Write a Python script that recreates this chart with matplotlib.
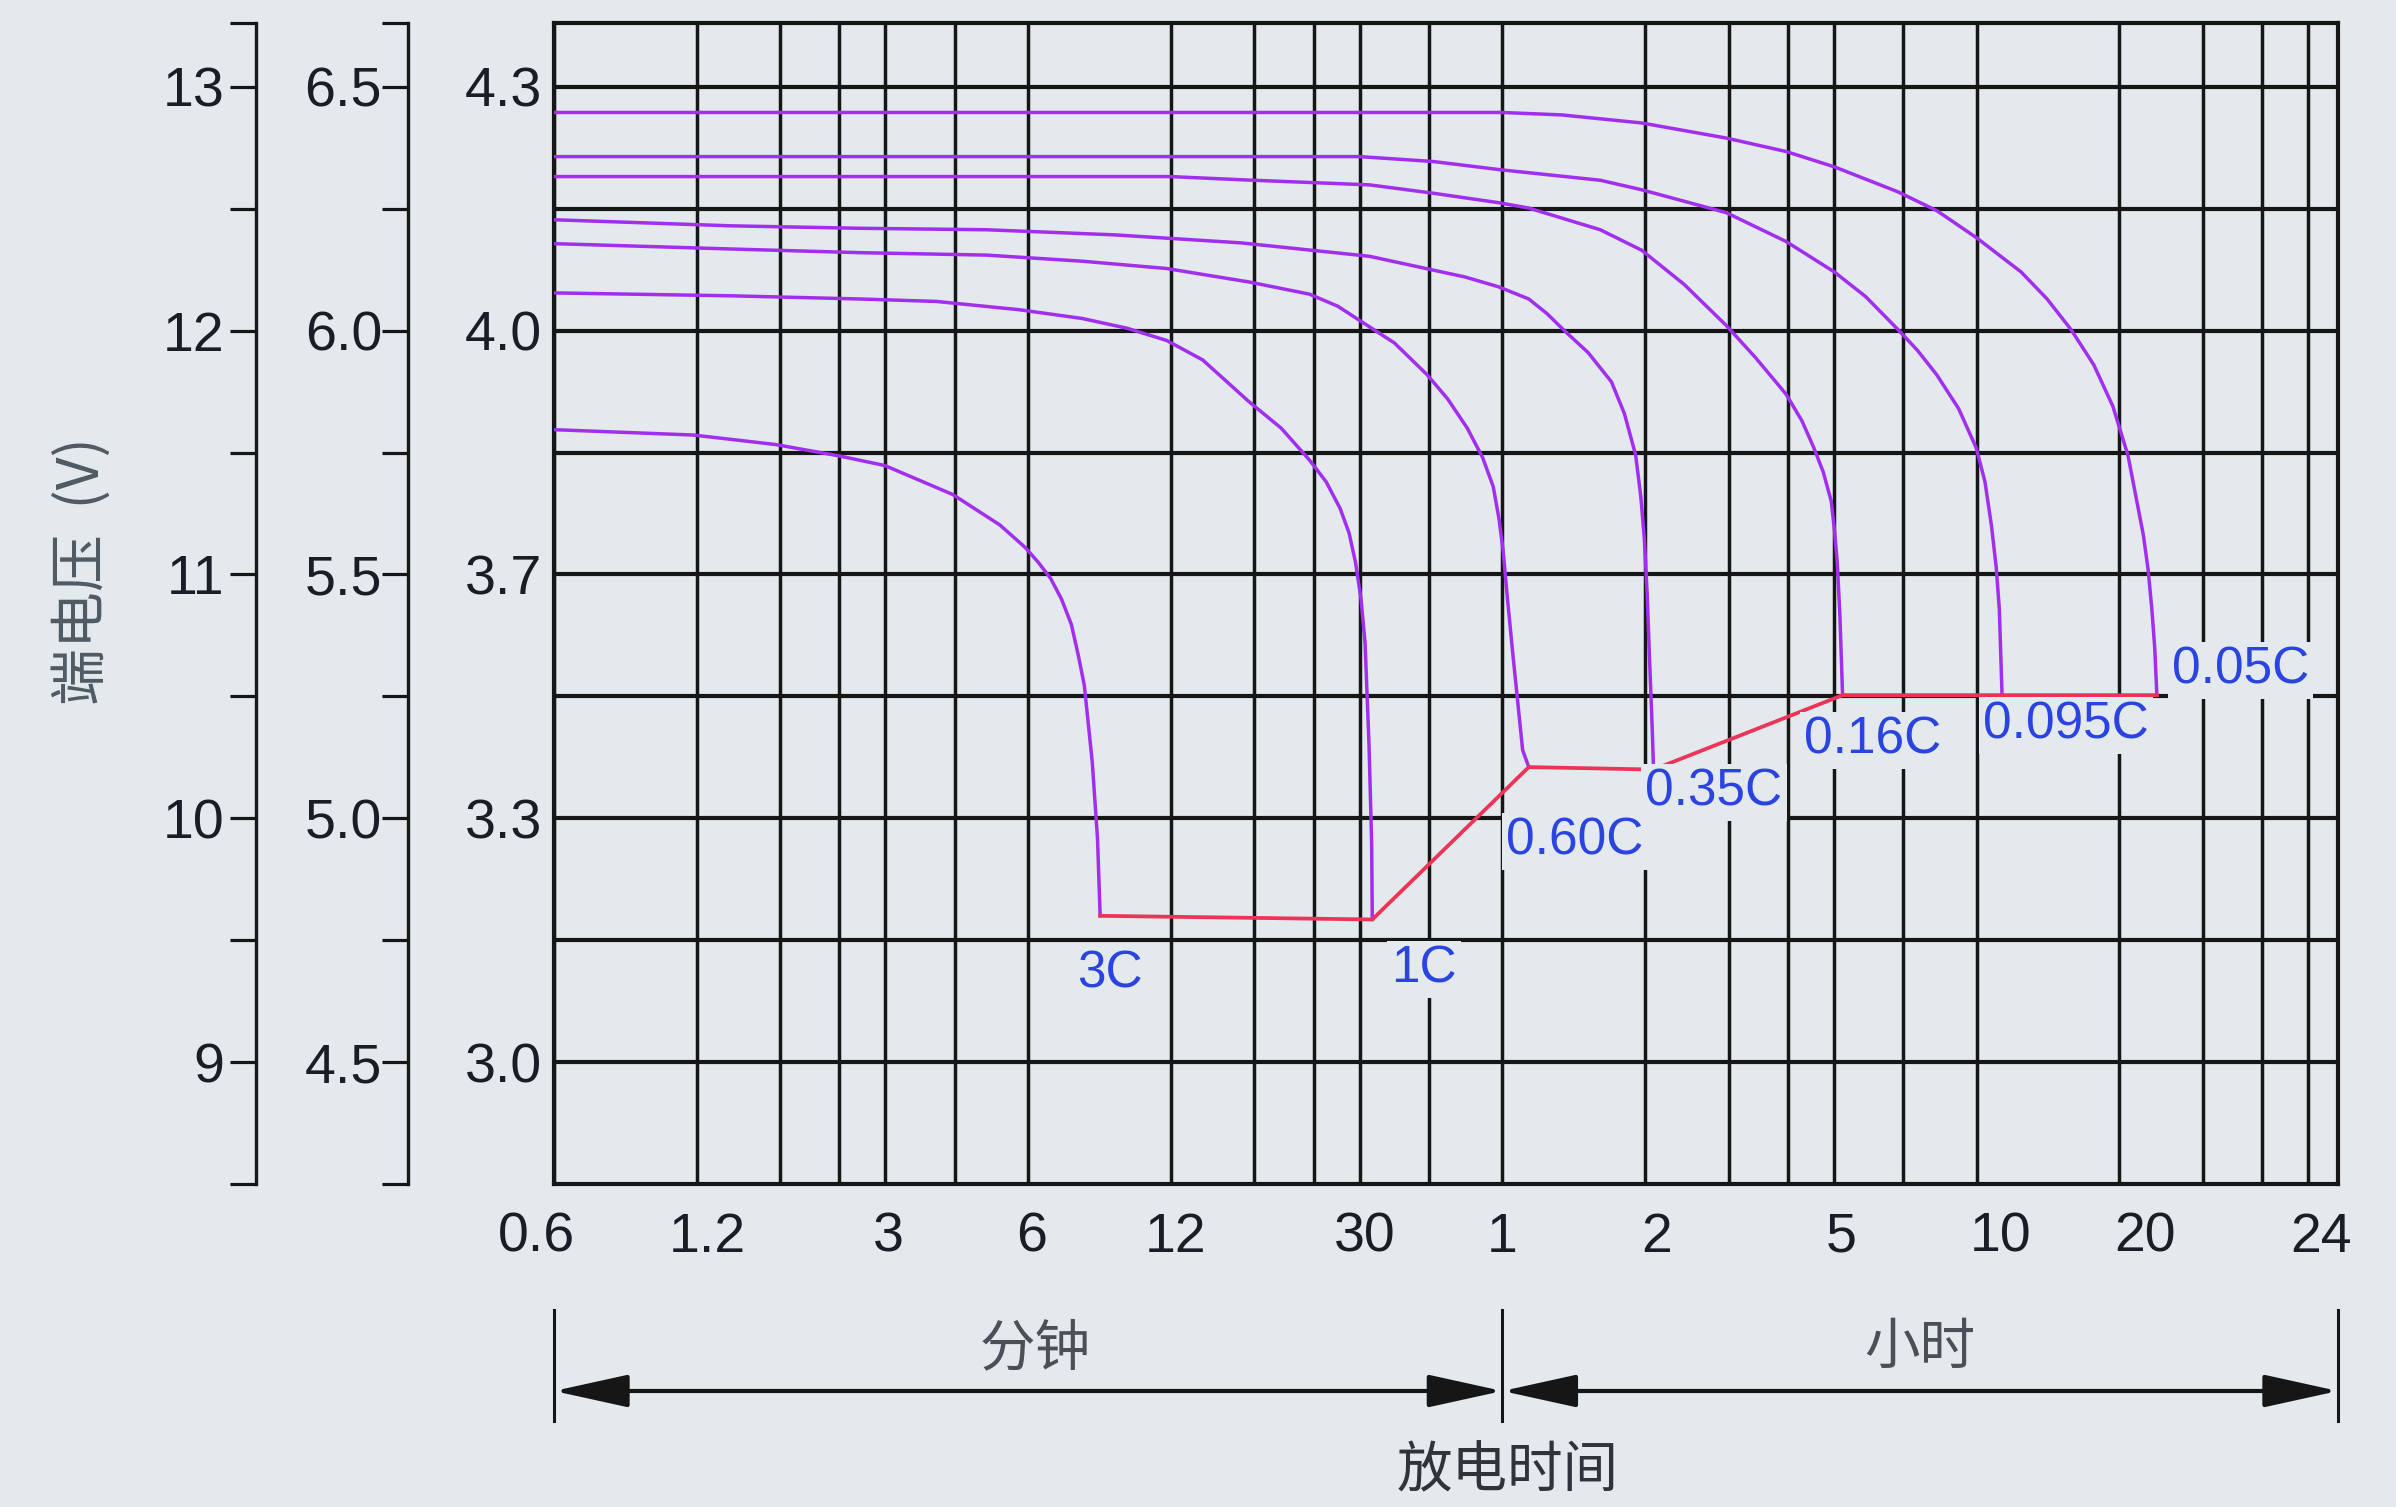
import numpy as np
import matplotlib
matplotlib.use('Agg')
import matplotlib.pyplot as plt
from matplotlib.ticker import NullLocator
from matplotlib.patches import FancyArrowPatch

# ---------------- data ----------------
# discharge time in minutes, terminal voltage on the 12 V scale
t_3C = [0.6, 1.18, 1.76, 2.40, 2.99, 4.16, 5.23, 5.92, 6.3, 6.69, 7.05, 7.40, 7.65, 7.88,
        8.19, 8.40, 8.51]
v_3C = [11.594, 11.572, 11.533, 11.486, 11.447, 11.328, 11.203, 11.11, 11.05, 10.984, 10.9,
        10.795, 10.67, 10.545, 10.23, 9.918, 9.60]

t_1C = [0.6, 1.42, 2.65, 3.84, 5.74, 7.8, 9.7, 11.75, 14.0, 17.5, 20.5, 23.5, 25.5, 27.3,
        28.5, 29.4, 30.2, 30.8, 31.4, 31.8, 31.9]
v_1C = [12.155, 12.143, 12.13, 12.12, 12.086, 12.05, 12.01, 11.96, 11.88, 11.71, 11.60,
        11.47, 11.38, 11.27, 11.17, 11.05, 10.9, 10.72, 10.30, 9.90, 9.585]

t_060C = [0.6, 1.42, 2.65, 4.9, 7.8, 11.75, 17.5, 23.5, 27.0, 30.1, 35.5, 41.6, 46, 50.6,
          54.5, 57.4, 59.0, 60.2, 61.5, 63.0, 66.2, 68.2]
v_060C = [12.357, 12.335, 12.32, 12.31, 12.285, 12.255, 12.2, 12.15, 12.10, 12.04, 11.95,
          11.82, 11.72, 11.60, 11.48, 11.36, 11.23, 11.10, 10.9, 10.69, 10.28, 10.21]

t_035C = [0.6, 1.42, 2.65, 4.9, 9.13, 16.9, 31.5, 50.1, 58.9, 68.2, 74.5, 81.1, 91.0, 101.9,
          108.5, 114.6, 117.5, 119.5, 121.2, 122.4, 124.3, 125.0]
v_035C = [12.455, 12.43, 12.42, 12.414, 12.393, 12.36, 12.305, 12.22, 12.18, 12.13, 12.07,
          12.0, 11.91, 11.79, 11.66, 11.49, 11.32, 11.15, 10.92, 10.69, 10.35, 10.20]

t_016C = [0.6, 12, 16.9, 31.5, 42.8, 58.9, 68.2, 96.5, 118, 145, 178, 205, 237.8, 257,
          272.2, 285, 296.3, 301, 305, 309, 313]
v_016C = [12.632, 12.632, 12.619, 12.598, 12.564, 12.525, 12.503, 12.414, 12.33, 12.19,
          12.021, 11.89, 11.74, 11.63, 11.52, 11.42, 11.30, 11.18, 11.05, 10.83, 10.505]

t_0095C = [0.6, 30, 42.8, 59.5, 96.5, 118, 178, 237.8, 300.7, 350, 409, 450, 494.9, 550,
           599, 625, 645, 660, 670, 679]
v_0095C = [12.714, 12.714, 12.694, 12.66, 12.617, 12.578, 12.484, 12.366, 12.241, 12.14,
           12.006, 11.92, 11.818, 11.68, 11.519, 11.38, 11.20, 11.03, 10.86, 10.505]

t_005C = [0.6, 60, 80, 118, 178, 237.8, 300.7, 409, 494.9, 599, 744.7, 845, 948, 1060,
          1163, 1251.6, 1349, 1380, 1405, 1425, 1440]
v_005C = [12.895, 12.895, 12.885, 12.852, 12.79, 12.735, 12.672, 12.57, 12.492, 12.382,
          12.241, 12.13, 12.006, 11.86, 11.69, 11.488, 11.16, 11.02, 10.86, 10.70, 10.505]

rate_names = ['3C', '1C', '0.60C', '0.35C', '0.16C', '0.095C', '0.05C']
curves_t = [t_3C, t_1C, t_060C, t_035C, t_016C, t_0095C, t_005C]
curves_v = [v_3C, v_1C, v_060C, v_035C, v_016C, v_0095C, v_005C]

# end-of-discharge line joins the curve end points
end_t = [t[-1] for t in curves_t]
end_v = [v[-1] for v in curves_v]

# axis tick labels
x_tick_vals = [0.6, 1.2, 3, 6, 12, 30, 60, 120, 300, 600, 1200]
x_tick_text = ['0.6', '1.2', '3', '6', '12', '30', '1', '2', '5', '10', '20']
x_last_text = '24'
y12_ticks = [9, 10, 11, 12, 13]
y12_text = ['9', '10', '11', '12', '13']
y6_text = ['4.5', '5.0', '5.5', '6.0', '6.5']
ycell_text = ['3.0', '3.3', '3.7', '4.0', '4.3']

# grid positions (minutes): 1,2,3,4,5,7 pattern of the log paper
grid_x = [0.6, 1.2, 1.8, 2.4, 3, 4.2, 6, 12, 18, 24, 30, 42, 60,
          120, 180, 240, 300, 420, 600, 1200, 1800, 2400, 3000]
grid_y_major = [9, 10, 11, 12, 13]
grid_y_minor = [9.5, 10.5, 11.5, 12.5]

# ---------------- style ----------------
BG = '#E3E9EC'
GRID = '#161616'
CURVE = '#A22EEE'
ENDC = '#EE3358'
LBL = '#2B44E0'
TXT = '#1b1d26'
CJK = ['Noto Sans CJK SC', 'DejaVu Sans']
LAT = ['Liberation Sans', 'DejaVu Sans']

W, H = 2396, 1507
fig = plt.figure(figsize=(W / 100, H / 100), dpi=100, facecolor=BG)
L, R, T, B = 554, 2338, 23, 1184
ax = fig.add_axes([L / W, 1 - B / H, (R - L) / W, (B - T) / H])
ax.set_facecolor(BG)

XMIN, XMAX = 0.6, 3470
YMIN, YMAX = 8.5, 13.262
ax.set_xscale('log')
ax.set_xlim(XMIN, XMAX)
ax.set_ylim(YMIN, YMAX)

ax.set_xticks(grid_x)
ax.xaxis.set_minor_locator(NullLocator())
ax.tick_params(axis='x', which='both', length=0, labelbottom=False)
ax.grid(axis='x', which='major', color=GRID, lw=2.5)

ax.set_yticks(grid_y_major)
ax.set_yticklabels(ycell_text)
ax.set_yticks(grid_y_minor, minor=True)
ax.tick_params(axis='y', which='both', length=0, pad=8.5, labelsize=40, labelcolor=TXT)
for lab in ax.get_yticklabels():
    lab.set_family(LAT)
ax.grid(axis='y', which='both', color=GRID, lw=3.0)
ax.set_axisbelow(True)
for s in ax.spines.values():
    s.set_linewidth(3.0)
    s.set_color(GRID)

# curves
for t, v in zip(curves_t, curves_v):
    ax.plot(t, v, color=CURVE, lw=2.5, zorder=3, solid_joinstyle='round')
ax.plot(end_t, end_v, color=ENDC, lw=2.7, zorder=4, solid_joinstyle='miter')

# rate labels
label_pos = [(8.91, 9.36), (41.0, 9.38), (85.3, 9.906), (167.6, 10.107),
             (361.9, 10.32), (924.6, 10.381), (2160, 10.607)]
for name, (lx, ly) in zip(rate_names, label_pos):
    ax.text(lx, ly, name, color=LBL, fontsize=37, family=LAT, ha='center', va='center',
            zorder=5, bbox=dict(boxstyle='square,pad=0.08', fc=BG, ec='none'))

# x tick labels (offsets of the original artwork)
xf = ax.get_xaxis_transform()
x_off_px = [-18, 11, 3, 3.5, 5, 5.5, 0, 11, 7, 24, 26]
for val, txt, dx in zip(x_tick_vals, x_tick_text, x_off_px):
    ax.annotate(txt, xy=(val, 0), xycoords=xf, xytext=(dx * 0.72, -54 * 0.72),
                textcoords='offset points', ha='center', va='center',
                fontsize=40, family=LAT, color=TXT, annotation_clip=False)
ax.annotate(x_last_text, xy=(1.0, 0), xycoords='axes fraction', xytext=(-17 * 0.72, -54 * 0.72),
            textcoords='offset points', ha='center', va='center',
            fontsize=40, family=LAT, color=TXT, annotation_clip=False)

# left bracket axes: 12 V and 6 V scales
def style_sec(sec, pad):
    sec.tick_params(axis='y', direction='out', length=18.5, width=2.3, pad=pad,
                    labelsize=40, colors=GRID, labelcolor=TXT)
    for sp in sec.spines.values():
        sp.set_linewidth(2.4)
        sp.set_color(GRID)
    for lab in sec.get_yticklabels():
        lab.set_family(LAT)

sec12 = ax.secondary_yaxis((256 - L) / (R - L))
t12 = [YMIN] + [v for y in y12_ticks for v in (y, y + 0.5)][:-1] + [YMAX]
l12 = [''] + [v for y in y12_text for v in (y, '')][:-1] + ['']
sec12.set_yticks(t12, labels=l12)
style_sec(sec12, 4)

sec6 = ax.secondary_yaxis((407.6 - L) / (R - L), functions=(lambda v: v / 2, lambda v: v * 2))
t6 = [x / 2 for x in t12]
l6 = [''] + [v for y in y6_text for v in (y, '')][:-1] + ['']
sec6.set_yticks(t6, labels=l6)
style_sec(sec6, 0)

# bottom time-range annotation
def ay(ypx):
    return (B - ypx) / (B - T)

bar_x = [XMIN, 60, XMAX]
for bx in bar_x:
    ax.plot([bx, bx], [ay(1310), ay(1421)], transform=xf, color=GRID, lw=2.2, clip_on=False)
for a, b in [(XMIN, 60), (60, XMAX)]:
    arr = FancyArrowPatch((a, ay(1391)), (b, ay(1391)), transform=xf,
                          arrowstyle='<|-|>,head_length=1.0,head_width=0.22',
                          mutation_scale=46, color=GRID, lw=3.0, shrinkA=0, shrinkB=0,
                          clip_on=False)
    ax.add_patch(arr)

ax.text(6.2, ay(1350), '分钟', transform=xf, ha='center', va='center', fontsize=40,
        family=CJK, color='#4a4f58', clip_on=False)
ax.text(60 * 7.6, ay(1348), '小时', transform=xf, ha='center', va='center', fontsize=40,
        family=CJK, color='#4a4f58', clip_on=False)
fig.text(1508 / W, 1 - 1472 / H, '放电时间', ha='center', va='center', fontsize=40,
         family=CJK, color='#2f333b')
fig.text(82 / W, 1 - 571 / H, '端电压  (V)', rotation=90, ha='center', va='center',
         fontsize=41, family=CJK, color='#4f5a63')

fig.savefig('out.png', dpi=100, facecolor=BG)
